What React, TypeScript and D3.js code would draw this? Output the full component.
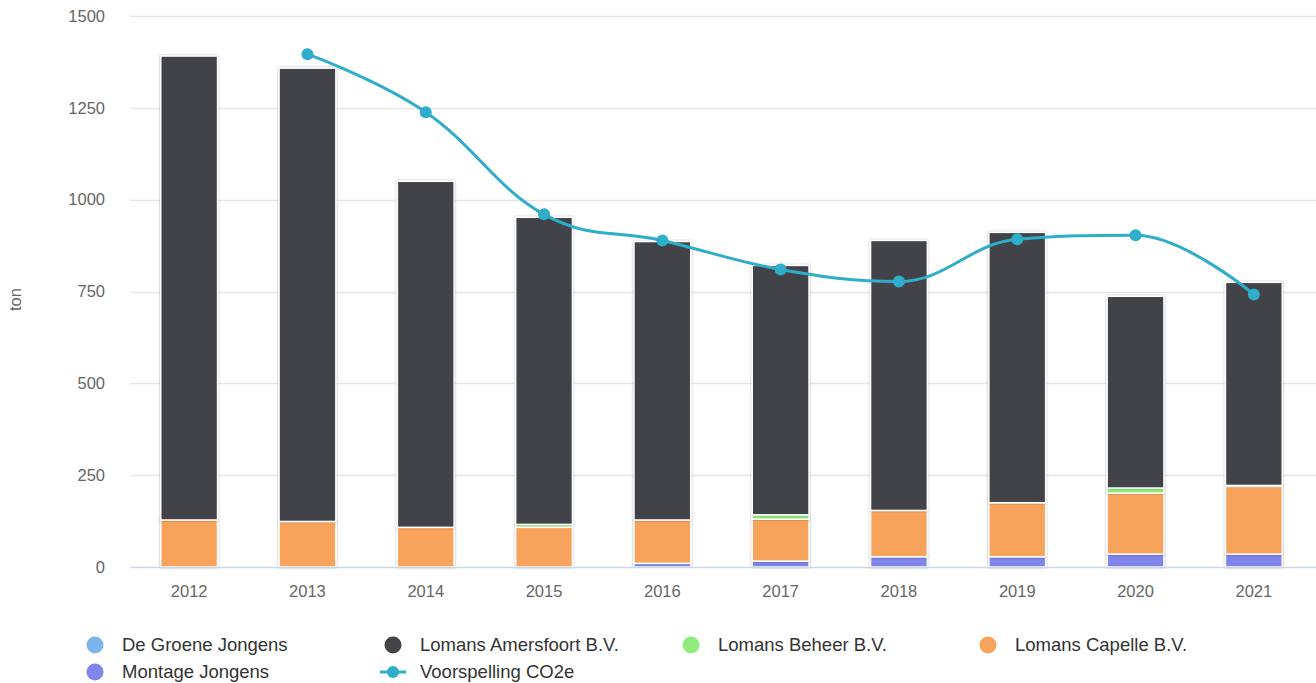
import React, { useEffect, useRef } from 'react'
import * as d3 from 'd3'

const years = ['2012', '2013', '2014', '2015', '2016', '2017', '2018', '2019', '2020', '2021']
const montageJongens = [0, 0, 0, 0, 10, 16, 28, 28, 35, 35]
const lomansCapelle = [128, 124, 108, 108, 118, 114, 126, 147, 166, 184]
const lomansBeheer = [0, 0, 0, 8, 0, 12, 0, 0, 14, 3]
const lomansAmersfoort = [1263, 1234, 942, 836, 758, 679, 735, 736, 522, 553]
const deGroeneJongens = [0, 0, 0, 0, 0, 0, 0, 0, 0, 0]
const voorspelling: (number | null)[] = [null, 1396, 1238, 960, 889, 810, 777, 892, 903, 742]
const yTicks = [0, 250, 500, 750, 1000, 1250, 1500]

const stackSeries = [
  { name: 'Montage Jongens', values: montageJongens, color: '#8085e9' },
  { name: 'Lomans Capelle B.V.', values: lomansCapelle, color: '#f7a35c' },
  { name: 'Lomans Beheer B.V.', values: lomansBeheer, color: '#90ed7d' },
  { name: 'Lomans Amersfoort B.V.', values: lomansAmersfoort, color: '#434348' },
  { name: 'De Groene Jongens', values: deGroeneJongens, color: '#7cb5ec' },
]

const legendItems = [
  { name: 'De Groene Jongens', color: '#7cb5ec', line: false },
  { name: 'Lomans Amersfoort B.V.', color: '#434348', line: false },
  { name: 'Lomans Beheer B.V.', color: '#90ed7d', line: false },
  { name: 'Lomans Capelle B.V.', color: '#f7a35c', line: false },
  { name: 'Montage Jongens', color: '#8085e9', line: false },
  { name: 'Voorspelling CO2e', color: '#2eaecb', line: true },
]

const LINE_COLOR = '#2eaecb'

// Highcharts-like spline path
function splinePath(pts: [number, number][]) {
  const p = d3.path()
  const sm = 1.5
  const ctrl = pts.map((pt, i) => {
    const [x, y] = pt
    if (i === 0 || i === pts.length - 1) return { lx: x, ly: y, rx: x, ry: y }
    const [lx0, ly0] = pts[i - 1]
    const [nx, ny] = pts[i + 1]
    let lx = (sm * x + lx0) / (sm + 1)
    let ly = (sm * y + ly0) / (sm + 1)
    let rx = (sm * x + nx) / (sm + 1)
    let ry = (sm * y + ny) / (sm + 1)
    if (rx !== lx) {
      const corr = ((ry - ly) * (rx - x)) / (rx - lx) + y - ry
      ly += corr
      ry += corr
    }
    if (ly > ly0 && ly > y) { ly = Math.max(ly0, y); ry = 2 * y - ly }
    else if (ly < ly0 && ly < y) { ly = Math.min(ly0, y); ry = 2 * y - ly }
    if (ry > ny && ry > y) { ry = Math.max(ny, y); ly = 2 * y - ry }
    else if (ry < ny && ry < y) { ry = Math.min(ny, y); ly = 2 * y - ry }
    return { lx, ly, rx, ry }
  })
  pts.forEach((pt, i) => {
    if (i === 0) { p.moveTo(pt[0], pt[1]); return }
    const prev = ctrl[i - 1]
    const cur = ctrl[i]
    p.bezierCurveTo(prev.rx, prev.ry, cur.lx, cur.ly, pt[0], pt[1])
  })
  return p.toString()
}

export default function App() {
  const svgRef = useRef<SVGSVGElement>(null)
  const width = 1316
  const height = 683

  useEffect(() => {
    if (!svgRef.current) return
    const svg = d3.select(svgRef.current)
    svg.selectAll('*').remove()

    const plotLeft = 130
    const plotRight = 1313
    const plotTop = 16
    const plotBottom = 567
    const font = 'Arial, "Liberation Sans", Helvetica, sans-serif'

    const x = d3.scaleBand<string>()
      .domain(years)
      .range([plotLeft, plotRight])
      .paddingInner(0.52)
      .paddingOuter(0.26)

    const y = d3.scaleLinear().domain([0, 1500]).range([plotBottom, plotTop])

    const defs = svg.append('defs')
    const filter = defs.append('filter')
      .attr('id', 'barShadow')
      .attr('x', '-20%').attr('y', '-20%')
      .attr('width', '140%').attr('height', '140%')
    filter.append('feDropShadow')
      .attr('dx', 0).attr('dy', 0)
      .attr('stdDeviation', 1)
      .attr('flood-color', '#000')
      .attr('flood-opacity', 0.35)

    // grid
    svg.append('g')
      .selectAll('line')
      .data(yTicks.filter(t => t > 0))
      .join('line')
      .attr('x1', plotLeft)
      .attr('x2', width)
      .attr('y1', d => Math.round(y(d)) + 0.5)
      .attr('y2', d => Math.round(y(d)) + 0.5)
      .attr('stroke', '#e6e6e6')
      .attr('stroke-width', 1.5)

    // y labels
    svg.append('g')
      .selectAll('text')
      .data(yTicks)
      .join('text')
      .attr('x', 105)
      .attr('y', d => y(d))
      .attr('dy', '0.35em')
      .attr('text-anchor', 'end')
      .attr('fill', '#666666')
      .style('font-family', font)
      .style('font-size', '16.5px')
      .text(d => d)

    svg.append('text')
      .attr('transform', `translate(21, ${(plotTop + plotBottom) / 2 + 8}) rotate(-90)`)
      .attr('text-anchor', 'middle')
      .attr('fill', '#666666')
      .style('font-family', font)
      .style('font-size', '16.5px')
      .text('ton')

    // stacked bars
    const stackData = years.map((yr, i) => {
      const row: Record<string, number | string> = { year: yr }
      stackSeries.forEach(s => { row[s.name] = s.values[i] })
      return row
    })
    const stacked = d3.stack<Record<string, number | string>>()
      .keys(stackSeries.map(s => s.name))
      .value((d, k) => d[k] as number)(stackData)

    const barG = svg.append('g')
    stacked.forEach((layer, li) => {
      barG.append('g')
        .attr('fill', stackSeries[li].color)
        .selectAll('rect')
        .data(layer.filter(d => d[1] - d[0] > 0))
        .join('rect')
        .attr('x', d => x(d.data.year as string)!)
        .attr('width', x.bandwidth())
        .attr('y', d => y(d[1]))
        .attr('height', d => y(d[0]) - y(d[1]))
        .attr('stroke', '#ffffff')
        .attr('stroke-width', 1.5)
        .attr('filter', 'url(#barShadow)')
    })

    // x axis line
    svg.append('line')
      .attr('x1', plotLeft)
      .attr('x2', width)
      .attr('y1', plotBottom + 0.5)
      .attr('y2', plotBottom + 0.5)
      .attr('stroke', '#ccd6eb')
      .attr('stroke-width', 1.5)

    svg.append('g')
      .selectAll('text')
      .data(years)
      .join('text')
      .attr('x', d => x(d)! + x.bandwidth() / 2)
      .attr('y', 591)
      .attr('dy', '0.35em')
      .attr('text-anchor', 'middle')
      .attr('fill', '#666666')
      .style('font-family', font)
      .style('font-size', '16.5px')
      .text(d => d)

    // forecast spline
    const linePts: [number, number][] = []
    voorspelling.forEach((v, i) => {
      if (v !== null) linePts.push([x(years[i])! + x.bandwidth() / 2, y(v)])
    })
    svg.append('path')
      .attr('d', splinePath(linePts))
      .attr('fill', 'none')
      .attr('stroke', LINE_COLOR)
      .attr('stroke-width', 3)
      .attr('stroke-linejoin', 'round')
      .attr('stroke-linecap', 'round')

    svg.append('g')
      .selectAll('circle')
      .data(linePts)
      .join('circle')
      .attr('cx', d => d[0])
      .attr('cy', d => d[1])
      .attr('r', 6)
      .attr('fill', LINE_COLOR)

    // legend
    const colX = [95, 393, 691, 988]
    const rowY = [645, 672]
    const legend = svg.append('g')
    legendItems.forEach((item, i) => {
      const cx = colX[i % 4]
      const cy = rowY[Math.floor(i / 4)]
      const g = legend.append('g')
      if (item.line) {
        g.append('line')
          .attr('x1', cx - 13).attr('x2', cx + 13)
          .attr('y1', cy).attr('y2', cy)
          .attr('stroke', item.color)
          .attr('stroke-width', 3)
        g.append('circle').attr('cx', cx).attr('cy', cy).attr('r', 6).attr('fill', item.color)
      } else {
        g.append('circle').attr('cx', cx).attr('cy', cy).attr('r', 8.5).attr('fill', item.color)
      }
      g.append('text')
        .attr('x', cx + 27)
        .attr('y', cy)
        .attr('dy', '0.35em')
        .attr('fill', '#333333')
        .style('font-family', font)
        .style('font-size', '18.5px')
        .text(item.name)
    })
  }, [])

  return (
    <svg
      ref={svgRef}
      width={width}
      height={height}
      style={{ position: 'absolute', left: 0, top: 0, background: '#ffffff' }}
    />
  )
}
